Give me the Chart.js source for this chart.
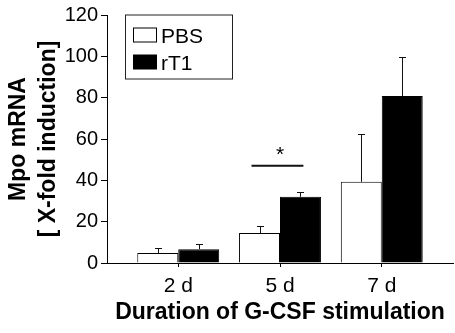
<!DOCTYPE html>
<html>
<head>
<meta charset="utf-8">
<script src="https://cdn.jsdelivr.net/npm/chart.js@4/dist/chart.umd.min.js"></script>
<style>
  html, body { margin: 0; padding: 0; background: #fff; }
  #wrap { width: 455px; height: 333px; }
</style>
</head>
<body>
<div id="wrap"><canvas id="mpoChart" width="455" height="333"></canvas></div>
<script>
// datos
const categories = ['2 d', '5 d', '7 d'];
const pbsMean = [4.8, 14.5, 39.3];
const pbsErr = [2.7, 3.3, 22.9];
const rt1Mean = [6.7, 32.0, 80.8];
const rt1Err = [2.7, 2.5, 19.1];
const yTicks = [0, 20, 40, 60, 80, 100, 120];
// marca de significancia sobre 5 d
const sigCategory = 1;
const sigLevel = 47;

Chart.defaults.font.family = '"Liberation Sans", Arial, sans-serif';
Chart.defaults.color = '#000';

const toPoints = arr => arr.map((v, i) => ({ x: i, y: v }));

// barras de error (solo hacia arriba)
const errorBars = {
  id: 'errorBars',
  afterDatasetsDraw(chart) {
    const ctx = chart.ctx;
    const y = chart.scales.y;
    ctx.save();
    ctx.strokeStyle = '#111';
    ctx.lineWidth = 1;
    chart.data.datasets.forEach((ds, d) => {
      const meta = chart.getDatasetMeta(d);
      meta.data.forEach((bar, i) => {
        const top = y.getPixelForValue(ds.data[i].y + ds.err[i]);
        const bx = Math.round(bar.x) + 0.5;
        ctx.beginPath();
        ctx.moveTo(bx, bar.y);
        ctx.lineTo(bx, Math.round(top) + 0.5);
        ctx.moveTo(bx - 3.5, Math.round(top) + 0.5);
        ctx.lineTo(bx + 3.5, Math.round(top) + 0.5);
        ctx.stroke();
      });
    });
    ctx.restore();
  }
};

// asterisco + linea
const sigMark = {
  id: 'sigMark',
  afterDatasetsDraw(chart) {
    const ctx = chart.ctx;
    const x = chart.scales.x, y = chart.scales.y;
    const yy = y.getPixelForValue(sigLevel);
    const x0 = x.getPixelForValue(sigCategory - 0.28);
    const x1 = x.getPixelForValue(sigCategory + 0.23);
    ctx.save();
    ctx.strokeStyle = '#111';
    ctx.lineWidth = 2;
    ctx.beginPath();
    ctx.moveTo(x0, yy);
    ctx.lineTo(x1, yy);
    ctx.stroke();
    ctx.fillStyle = '#000';
    ctx.font = '21px "Liberation Sans", Arial, sans-serif';
    ctx.textAlign = 'center';
    ctx.textBaseline = 'alphabetic';
    ctx.fillText('*', x.getPixelForValue(sigCategory), yy - 5);
    ctx.restore();
  }
};

// leyenda con recuadro
const boxLegend = {
  id: 'boxLegend',
  afterDraw(chart) {
    const ctx = chart.ctx;
    const left = chart.chartArea.left + 18;
    const top = chart.chartArea.top - 0.5;
    ctx.save();
    ctx.strokeStyle = '#222';
    ctx.lineWidth = 1;
    ctx.strokeRect(left + 0.5, top + 0.5, 107, 64);
    ctx.font = '21px "Liberation Sans", Arial, sans-serif';
    ctx.textBaseline = 'alphabetic';
    chart.data.datasets.forEach((ds, d) => {
      const sy = top + 13 + d * 27;
      ctx.fillStyle = ds.backgroundColor;
      ctx.fillRect(left + 8.5, sy + 0.5, 23, 14);
      ctx.strokeStyle = '#000';
      ctx.strokeRect(left + 8.5, sy + 0.5, 23, 14);
      ctx.fillStyle = '#000';
      ctx.fillText(ds.label, left + 36, sy + 15);
    });
    ctx.restore();
  }
};

new Chart(document.getElementById('mpoChart'), {
  type: 'bar',
  data: {
    datasets: [
      {
        label: 'PBS',
        data: toPoints(pbsMean),
        err: pbsErr,
        backgroundColor: '#fff',
        borderColor: '#000',
        borderWidth: 1
      },
      {
        label: 'rT1',
        data: toPoints(rt1Mean),
        err: rt1Err,
        backgroundColor: '#000',
        borderColor: '#000',
        borderWidth: 1
      }
    ]
  },
  options: {
    responsive: false,
    animation: false,
    events: [],
    categoryPercentage: 0.805,
    barPercentage: 1.0,
    layout: { padding: { top: 14, right: 2, left: 0, bottom: 0 } },
    plugins: {
      legend: { display: false },
      tooltip: { enabled: false }
    },
    scales: {
      x: {
        type: 'linear',
        offset: false,
        min: -0.7,
        max: 2.7,
        afterBuildTicks: s => { s.ticks = categories.map((c, i) => ({ value: i })); },
        afterFit: s => { s.height = 70; },
        ticks: {
          callback: v => categories[v],
          font: { size: 21 },
          padding: 7,
          maxRotation: 0
        },
        grid: { offset: false, drawOnChartArea: false, drawTicks: true, tickLength: 4, color: '#000' },
        border: { color: '#000', width: 1 },
        title: {
          display: true,
          text: 'Duration of G-CSF stimulation',
          font: { size: 23, weight: 'bold', lineHeight: 1.2 },
          padding: { top: 0, bottom: 7 }
        }
      },
      y: {
        min: 0,
        max: 120,
        afterBuildTicks: s => { s.ticks = yTicks.map(v => ({ value: v })); },
        afterFit: s => { s.width = 107; },
        ticks: {
          font: { size: 20 },
          padding: 3
        },
        grid: { drawOnChartArea: false, drawTicks: true, tickLength: 6, color: '#000' },
        border: { color: '#000', width: 1 },
        title: {
          display: true,
          text: ['Mpo mRNA', '[ X-fold induction]'],
          font: { size: 23, weight: 'bold', lineHeight: 1.3 },
          padding: { top: 3.5, bottom: 0 }
        }
      }
    }
  },
  plugins: [errorBars, sigMark, boxLegend]
});
</script>
</body>
</html>
